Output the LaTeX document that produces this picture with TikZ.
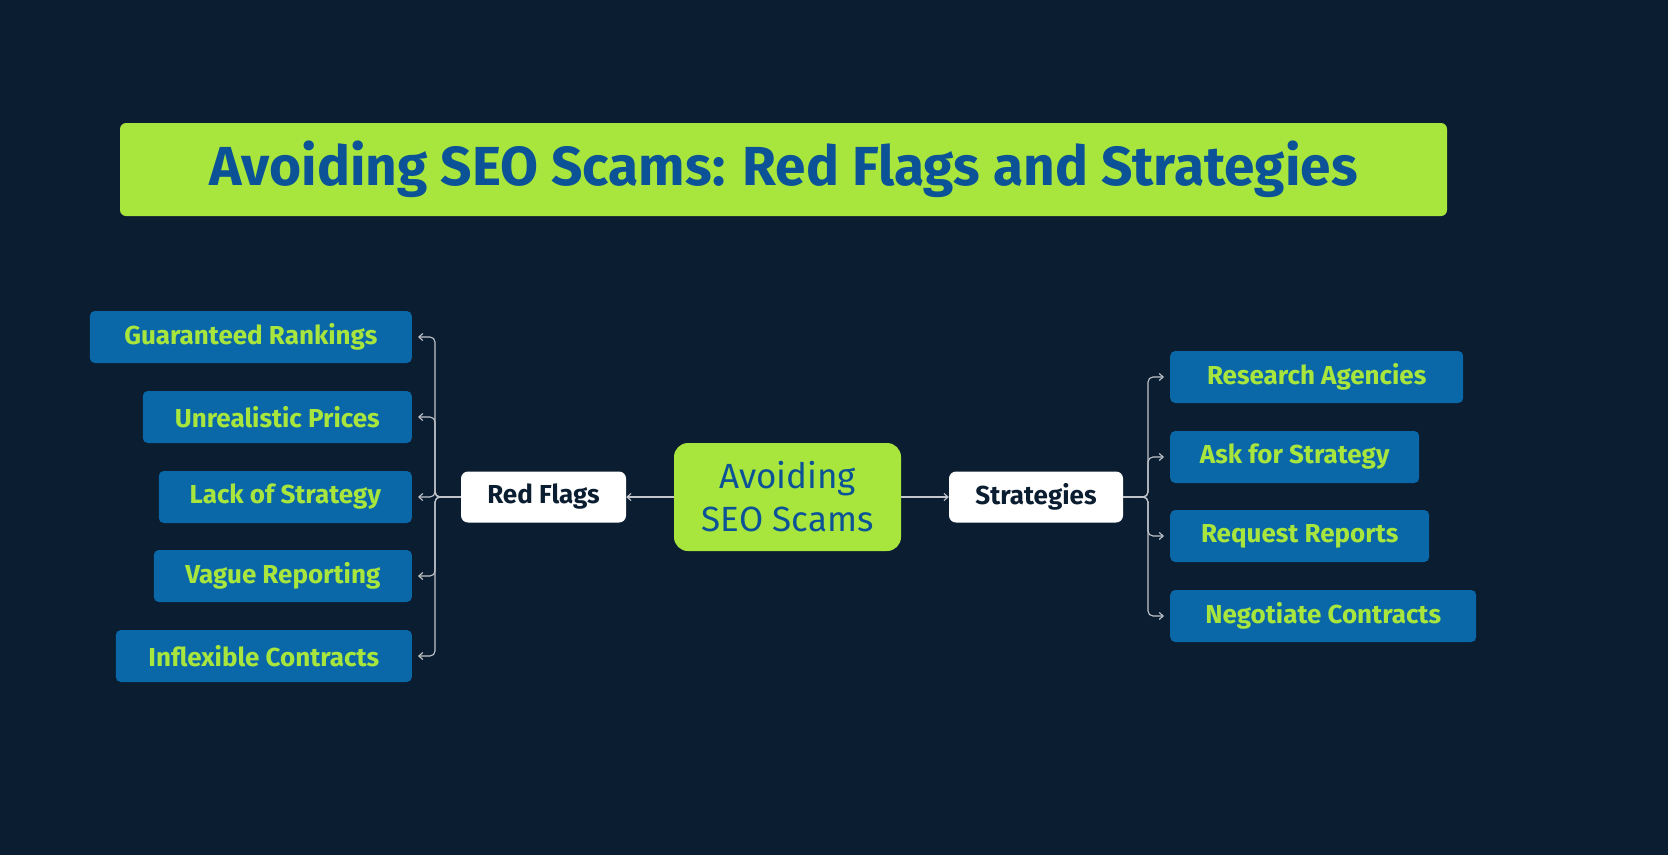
\documentclass[tikz,border=0pt]{standalone}
\usepackage{fontspec}
\setmainfont{Fira Sans}
\usetikzlibrary{arrows.meta,positioning}
\definecolor{bgnavy}{HTML}{0B1D31}
\definecolor{limegreen}{HTML}{A8E63D}
\definecolor{seoblue}{HTML}{0A68A8}
\definecolor{titleblue}{HTML}{0B5297}
\begin{document}
\begin{tikzpicture}[x=1pt,y=-1pt,>={Straight Barb[length=4pt,width=7pt]}]
  \tikzstyle{leaf}=[rectangle,rounded corners=5pt,fill=seoblue,text=limegreen,
                    font=\fontsize{26}{30}\selectfont\bfseries,minimum height=52pt,inner sep=0pt]
  \tikzstyle{branch}=[rectangle,rounded corners=7pt,fill=white,text=bgnavy,
                      font=\fontsize{26}{30}\selectfont\bfseries,minimum height=51pt,inner sep=0pt]
  \tikzstyle{link}=[->,draw=white!75!bgnavy,line width=1.1pt,rounded corners=5pt]
  \fill[bgnavy] (0,0) rectangle (1668,855);
  % title and centre
  \node [rectangle,rounded corners=6pt,fill=limegreen,text=titleblue,
         font=\fontsize{55}{60}\selectfont\bfseries,minimum width=1327pt,minimum height=93pt]
    (title) at (783.5,169.5) {Avoiding SEO Scams: Red Flags and Strategies};
  \node [rectangle,rounded corners=14pt,fill=limegreen,text=titleblue,align=center,
         font=\fontsize{35}{43}\selectfont,minimum width=227pt,minimum height=108pt]
    (scam) at (787.5,497) {Avoiding\\SEO Scams};
  \node [branch,minimum width=165pt] (flags) at (543.5,497) {Red Flags};
  \node [branch,minimum width=174pt] (strat) at (1036,497) {Strategies};
  \draw [link] (scam) -- (flags);
  \draw [link] (scam) -- (strat);
  % red flags
  \foreach \name/\y/\w/\txt in {g1/337/322/Guaranteed Rankings,g2/417/269/Unrealistic Prices,
      g3/497/253/Lack of Strategy,g4/576/258/Vague Reporting,g5/656/296/Inflexible Contracts}{
    \node [leaf,minimum width=\w pt,anchor=east] (\name) at (412,\y) {\txt};
    \draw [link] (flags.west) -- (435,497) |- ([xshift=6pt]\name.east);
  }
  % strategies
  \foreach \name/\y/\w/\txt in {s1/377/293/Research Agencies,s2/457/249/Ask for Strategy,
      s3/536/259/Request Reports,s4/616/306/Negotiate Contracts}{
    \node [leaf,minimum width=\w pt,anchor=west] (\name) at (1170,\y) {\txt};
    \draw [link] (strat.east) -- (1148,497) |- ([xshift=-6pt]\name.west);
  }
  \pgfresetboundingbox
  \path [use as bounding box] (0,0) rectangle (1668,855);
\end{tikzpicture}
\end{document}
